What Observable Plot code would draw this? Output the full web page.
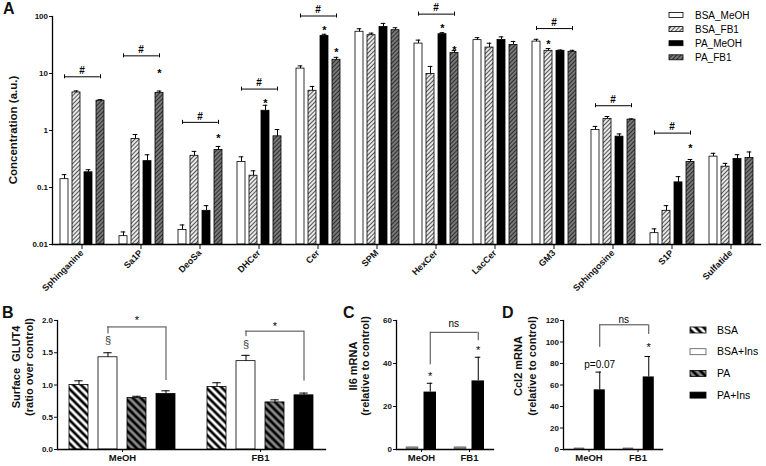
<!DOCTYPE html>
<html><head><meta charset="utf-8">
<script src="https://cdn.jsdelivr.net/npm/d3@7"></script>
<script src="https://cdn.jsdelivr.net/npm/@observablehq/plot@0.6"></script>
<style>
body{margin:0;background:#fff;}
#fig{position:relative;width:766px;height:466px;overflow:hidden;font-family:"Liberation Sans",Arial,sans-serif;background:#fff;}
#fig > *{position:absolute;}
.vl{font-weight:bold;white-space:pre;text-align:center;transform:translate(-50%,-50%) rotate(-90deg);color:#111;}
.pl{font-weight:bold;font-size:16px;line-height:16px;color:#111;}
</style></head><body><div id="fig"></div>
<script>
// ---------- Panel A data ----------
const categories = ["Sphinganine","Sa1P","DeoSa","DHCer","Cer","SPM","HexCer","LacCer","GM3","Sphingosine","S1P","Sulfatide"];
const seriesA = ["BSA_MeOH","BSA_FB1","PA_MeOH","PA_FB1"];
const bsaMeOH    = [0.14, 0.014, 0.018, 0.28, 12.2, 54, 33.5, 38.5, 36.3, 1.02, 0.0158, 0.348];
const bsaMeOHErr = [0.028, 0.0026, 0.004, 0.065, 1.4, 7, 5, 4, 3.5, 0.16, 0.003, 0.05];
const bsaFB1     = [4.65, 0.71, 0.36, 0.161, 4.98, 47, 9.8, 28.5, 25, 1.59, 0.039, 0.232];
const bsaFB1Err  = [0.3, 0.14, 0.07, 0.035, 0.95, 4, 3.5, 5.5, 2.4, 0.17, 0.009, 0.033];
const paMeOH     = [0.185, 0.29, 0.039, 2.22, 45.7, 65.7, 49, 38.9, 25, 0.78, 0.123, 0.316];
const paMeOHErr  = [0.02, 0.085, 0.009, 0.55, 3, 10, 3, 5, 0.8, 0.09, 0.032, 0.06];
const paFB1      = [3.33, 4.57, 0.455, 0.79, 17.4, 57.5, 22.8, 31.8, 24, 1.55, 0.28, 0.33];
const paFB1Err   = [0.15, 0.35, 0.07, 0.25, 1.8, 6, 2.4, 4.7, 1.5, 0.05, 0.03, 0.09];
const yTicksA = [0.01, 0.1, 1, 10, 100];
const hashCatsA = ["Sphinganine","Sa1P","DeoSa","DHCer","Cer","HexCer","GM3","Sphingosine","S1P"];
const hashYA    = [8.75, 20.4, 1.39, 5.33, 102, 110, 61.4, 2.72, 0.9];
const starCatsA   = ["Sa1P","DeoSa","DHCer","Cer","Cer","HexCer","HexCer","GM3","S1P"];
const starSeriesA = ["PA_FB1","PA_FB1","PA_MeOH","PA_MeOH","PA_FB1","PA_MeOH","PA_FB1","BSA_FB1","PA_FB1"];
const starYA      = [11.1, 0.81, 3.33, 63.9, 26, 70.4, 28.5, 35.9, 0.54];

// ---------- Panel B data ----------
const groups = ["MeOH","FB1"];
const seriesB = ["BSA","BSA+Ins","PA","PA+Ins"];
const glut4MeOH    = [1.00, 1.43, 0.80, 0.86];
const glut4MeOHErr = [0.065, 0.07, 0.025, 0.05];
const glut4FB1     = [0.97, 1.37, 0.73, 0.84];
const glut4FB1Err  = [0.065, 0.09, 0.04, 0.035];
const yTicksB = [0, 0.5, 1, 1.5, 2];
const bracketYB      = [1.90, 1.835];
const bracketLeftB   = [1.79, 1.75];
const bracketRightB  = [1.07, 1.06];
const sectionYB      = [1.69, 1.63];
const starYB         = [2.05, 1.96];

// ---------- Panel C data ----------
const il6Ctrl = [1, 1];
const il6     = [26.7, 31.9];
const il6Err  = [4.1, 11];
const yTicksC = [0, 20, 40, 60];
const il6StarY = [35.5, 47.5];
const il6BracketY = 54.5;
const il6BracketEnds = [39.4, 50.6];
const il6NsY = 58.4;

// ---------- Panel D data ----------
const ccl2Ctrl = [1, 1];
const ccl2     = [55.5, 67.5];
const ccl2Err  = [16.5, 19];
const yTicksD = [0, 20, 40, 60, 80, 100, 120];
const ccl2PText = "p=0.07";
const ccl2PY = 78.8;
const ccl2StarY = [null, 97.5];
const ccl2BracketY = 116;
const ccl2BracketEnds = [95, 107];
const ccl2NsY = 121;

// ---------- styles ----------
const FONT = "Liberation Sans, Arial, sans-serif";
const fillsA = ["#ffffff","url(#hA1)","#000000","url(#hA2)"];
const fillsB = ["url(#hB1)","#ffffff","url(#hB2)","#000000"];
const INK = "black";

const fig = d3.select("#fig");

// hatch pattern definitions
const defsSvg = fig.append("svg").attr("width",0).attr("height",0).style("left","0").style("top","0");
const defs = defsSvg.append("defs");
function hatch(id, bg, fg, size, sw, angle) {
  const p = defs.append("pattern").attr("id", id).attr("patternUnits","userSpaceOnUse")
    .attr("width", size).attr("height", size).attr("patternTransform", `rotate(${angle})`);
  p.append("rect").attr("width", size).attr("height", size).attr("fill", bg);
  p.append("line").attr("x1", size/2).attr("x2", size/2).attr("y1", 0).attr("y2", size)
    .attr("stroke", fg).attr("stroke-width", sw);
}
hatch("hA1", "#efefef", "#555", 3, 1.1, 45);
hatch("hA2", "#7c7c7c", "#2f2f2f", 3, 1.1, 45);
hatch("hB1", "#ffffff", "#000", 5.5, 2.7, -45);
hatch("hB2", "#8a8a8a", "#000", 5.5, 2.7, -45);

function place(node, left, top) {
  node.style.position = "absolute";
  node.style.left = left + "px";
  node.style.top = top + "px";
  document.getElementById("fig").appendChild(node);
}
const baseStyle = {fontFamily: FONT, fontSize: "8px", fontWeight: "bold", overflow: "visible", background: "none", color: "#111"};

// ---------- Panel A ----------
const valsA = [bsaMeOH, bsaFB1, paMeOH, paFB1];
const errsA = [bsaMeOHErr, bsaFB1Err, paMeOHErr, paFB1Err];
const dataA = categories.flatMap((cat, i) => seriesA.map((series, j) => ({cat, series, value: valsA[j][i], err: errsA[j][i]})));
const bracketsA = hashCatsA.map((cat, i) => ({cat, y: hashYA[i]}));
const bracketEndsA = bracketsA.flatMap(b => [seriesA[0], seriesA[3]].map(series => ({...b, series})));
const starsA = starCatsA.map((cat, i) => ({cat, series: starSeriesA[i], y: starYA[i]}));

const plotA = Plot.plot({
  width: 766, height: 300,
  marginLeft: 47, marginRight: 2, marginTop: 16, marginBottom: 56,
  style: baseStyle,
  fx: {domain: categories, padding: 0},
  x: {domain: seriesA, paddingInner: 0.346, paddingOuter: 0.471, axis: null},
  y: {type: "log", domain: [yTicksA[0], yTicksA[yTicksA.length - 1]]},
  color: {domain: seriesA, range: fillsA},
  marks: [
    Plot.barY(dataA, {fx: "cat", x: "series", y1: yTicksA[0], y2: "value", fill: "series", stroke: INK, strokeWidth: 0.8}),
    Plot.ruleX(dataA, {fx: "cat", x: "series", y1: "value", y2: d => d.value + d.err, stroke: INK, strokeWidth: 1}),
    Plot.tickY(dataA, {fx: "cat", x: "series", y: d => d.value + d.err, stroke: INK, strokeWidth: 1, insetLeft: 1.7, insetRight: 1.7}),
    Plot.ruleY(bracketsA, {fx: "cat", y: "y", x1: () => seriesA[0], x2: () => seriesA[3], insetLeft: 4.2, insetRight: 4.2, stroke: INK, strokeWidth: 1}),
    Plot.ruleX(bracketEndsA, {fx: "cat", x: "series", y1: d => d.y / 1.085, y2: d => d.y * 1.085, stroke: INK, strokeWidth: 1}),
    Plot.text(bracketsA, {fx: "cat", y: "y", text: () => "#", dy: -6, fontSize: 10, fontWeight: "bold", fill: INK}),
    Plot.text(starsA, {fx: "cat", x: "series", y: "y", text: () => "*", fontSize: 11, dy: 3, fill: INK}),
    Plot.axisY({ticks: yTicksA, tickFormat: d => String(d), tickSize: 3, tickPadding: 1.5, label: null}),
    Plot.axisFx({anchor: "bottom", tickRotate: -45, tickSize: 5, tickPadding: 2, label: null, fontSize: 9}),
    Plot.frame({anchor: "left", facet: "super", stroke: INK, strokeWidth: 1.3}),
    Plot.frame({anchor: "bottom", facet: "super", stroke: INK, strokeWidth: 1.3})
  ]
});
place(plotA, 0, 0);

// legend A
const legA = d3.select(plotA).append("g").attr("font-weight", "normal").attr("font-size", 10).attr("text-anchor", "start");
seriesA.forEach((s, i) => {
  const y = 15 + i * 14.1;
  legA.append("rect").attr("x", 669).attr("y", y - 2.5).attr("width", 14).attr("height", 5)
    .attr("fill", fillsA[i]).attr("stroke", INK).attr("stroke-width", 0.8);
  legA.append("text").attr("x", 695).attr("y", y).attr("dy", "0.35em").attr("text-anchor", "start").attr("fill", INK).text(s);
});

// ---------- Panel B ----------
const valsB = [glut4MeOH, glut4FB1];
const errsB = [glut4MeOHErr, glut4FB1Err];
const dataB = groups.flatMap((group, i) => seriesB.map((series, j) => ({group, series, value: valsB[i][j], err: errsB[i][j]})));
const bracketsB = groups.map((group, i) => ({group, y: bracketYB[i]}));
const legsB = groups.flatMap((group, i) => [
  {group, series: seriesB[1], y1: bracketLeftB[i], y2: bracketYB[i]},
  {group, series: seriesB[3], y1: bracketRightB[i], y2: bracketYB[i]}
]);
const sectB = groups.map((group, i) => ({group, series: seriesB[1], y: sectionYB[i]}));
const starsB = groups.map((group, i) => ({group, series: seriesB[2], y: starYB[i]}));

const plotB = Plot.plot({
  width: 335, height: 166,
  marginLeft: 57, marginRight: 10, marginTop: 20, marginBottom: 17,
  style: baseStyle,
  fx: {domain: groups, padding: 0.06},
  x: {domain: seriesB, paddingInner: 0.34, paddingOuter: 0.355, axis: null},
  y: {domain: [yTicksB[0], yTicksB[yTicksB.length - 1]]},
  color: {domain: seriesB, range: fillsB},
  marks: [
    Plot.barY(dataB, {fx: "group", x: "series", y: "value", fill: "series", stroke: INK, strokeWidth: 0.8}),
    Plot.ruleX(dataB, {fx: "group", x: "series", y1: "value", y2: d => d.value + d.err, stroke: INK, strokeWidth: 1}),
    Plot.tickY(dataB, {fx: "group", x: "series", y: d => d.value + d.err, stroke: INK, strokeWidth: 1, insetLeft: 5.3, insetRight: 5.3}),
    Plot.ruleY(bracketsB, {fx: "group", y: "y", x1: () => seriesB[1], x2: () => seriesB[3], insetLeft: 9.2, insetRight: 9.2, stroke: "#444", strokeWidth: 1}),
    Plot.ruleX(legsB, {fx: "group", x: "series", y1: "y1", y2: "y2", stroke: "#444", strokeWidth: 1}),
    Plot.text(sectB, {fx: "group", x: "series", y: "y", text: () => "§", fontSize: 11, fontWeight: "normal", fill: "#333"}),
    Plot.text(starsB, {fx: "group", x: "series", y: "y", text: () => "*", fontSize: 11, fontWeight: "normal", dy: 3, fill: INK}),
    Plot.axisY({ticks: yTicksB, tickFormat: d3.format(".1f"), tickSize: 3, tickPadding: 1.5, label: null}),
    Plot.axisFx({anchor: "bottom", tickSize: 3, tickPadding: 2, label: null, fontSize: 9.5}),
    Plot.frame({anchor: "left", facet: "super", stroke: INK, strokeWidth: 1.3}),
    Plot.frame({anchor: "bottom", facet: "super", stroke: INK, strokeWidth: 1.3})
  ]
});
place(plotB, 0, 300);

// ---------- Panels C & D helper ----------
function mrnaPanel(o) {
  const ctrl = groups.map((group, i) => ({group, value: o.ctrl[i]}));
  const main = groups.map((group, i) => ({group, value: o.vals[i], err: o.errs[i]}));
  const legs = groups.map((group, i) => ({group, y1: o.bracketEnds[i], y2: o.bracketY}));
  const stars = groups.map((group, i) => ({group, y: o.starY[i]})).filter(d => d.y != null);
  return Plot.plot({
    width: o.width, height: 166,
    marginLeft: o.marginLeft, marginRight: o.marginRight, marginTop: 20, marginBottom: 17,
    style: baseStyle,
    x: {domain: groups, padding: 0},
    y: {domain: [o.ticks[0], o.ticks[o.ticks.length - 1]]},
    marks: [
      Plot.barY(ctrl, {x: "group", y: "value", fill: "#8a8a8a", stroke: "#555", strokeWidth: 0.5, insetLeft: o.ctrlInset[0], insetRight: o.ctrlInset[1]}),
      Plot.barY(main, {x: "group", y: "value", fill: "#000", insetLeft: o.barInset[0], insetRight: o.barInset[1]}),
      Plot.ruleX(main, {x: "group", y1: "value", y2: d => d.value + d.err, dx: o.shift, stroke: INK, strokeWidth: 1}),
      Plot.tickY(main, {x: "group", y: d => d.value + d.err, stroke: INK, strokeWidth: 1, insetLeft: o.capInset[0], insetRight: o.capInset[1]}),
      Plot.ruleY([o.bracketY], {y: d => d, x1: () => groups[0], x2: () => groups[1], insetLeft: o.brInset[0], insetRight: o.brInset[1], stroke: "#444", strokeWidth: 1}),
      Plot.ruleX(legs, {x: "group", y1: "y1", y2: "y2", dx: o.shift, stroke: "#444", strokeWidth: 1}),
      Plot.text(stars, {x: "group", y: "y", text: () => "*", dx: o.shift, dy: 3, fontSize: 11, fontWeight: "normal", fill: INK}),
      Plot.text(o.notes, {x: "group", y: "y", text: "text", dx: o.shift, fontSize: 10, fontWeight: "normal", fill: INK}),
      Plot.text([o.nsY], {y: d => d, text: () => "ns", dx: o.shift, fontSize: 10, fontWeight: "normal", fill: INK}),
      Plot.axisY({ticks: o.ticks, tickSize: 3, tickPadding: 1.5, label: null}),
      Plot.axisX({tickSize: 3, tickPadding: 2, label: null, fontSize: 9.5}),
      Plot.frame({anchor: "left", stroke: INK, strokeWidth: 1.3}),
      Plot.frame({anchor: "bottom", stroke: INK, strokeWidth: 1.3})
    ]
  });
}

const plotC = mrnaPanel({
  width: 160, marginLeft: 56, marginRight: 7, ticks: yTicksC,
  ctrl: il6Ctrl, vals: il6, errs: il6Err,
  ctrlInset: [9, 27], barInset: [26.5, 9], shift: 8.75, capInset: [29.8, 12.7], brInset: [33, 15.5],
  bracketY: il6BracketY, bracketEnds: il6BracketEnds, nsY: il6NsY,
  starY: il6StarY, notes: []
});
place(plotC, 340, 300);

const plotD = mrnaPanel({
  width: 170, marginLeft: 58, marginRight: 13, ticks: yTicksD,
  ctrl: ccl2Ctrl, vals: ccl2, errs: ccl2Err,
  ctrlInset: [10, 29], barInset: [29.7, 8.2], shift: 10.75, capInset: [31.5, 12], brInset: [35.5, 14],
  bracketY: ccl2BracketY, bracketEnds: ccl2BracketEnds, nsY: ccl2NsY,
  starY: ccl2StarY, notes: [{group: groups[0], y: ccl2PY, text: ccl2PText}]
});
place(plotD, 505, 300);

// legend B-D
const legSvg = fig.append("svg").attr("width", 86).attr("height", 120).style("left", "680px").style("top", "300px")
  .style("font-family", FONT).style("font-size", "10.5px");
const swB = ["url(#hB1)", "#ffffff", "url(#hB2)", "#000000"];
seriesB.forEach((s, i) => {
  const y = 30 + i * 21.7;
  legSvg.append("rect").attr("x", 10).attr("y", y - 3).attr("width", 16).attr("height", 6)
    .attr("fill", swB[i]).attr("stroke", i === 1 ? "#555" : INK).attr("stroke-width", 0.8);
  legSvg.append("text").attr("x", 37).attr("y", y).attr("dy", "0.35em").attr("fill", INK).text(s);
});

// axis titles and panel letters
function vlabel(text, cx, cy, size, lh) {
  const d = document.createElement("div");
  d.className = "vl";
  d.style.fontSize = size + "px";
  d.style.lineHeight = lh + "px";
  d.textContent = text;
  place(d, cx, cy);
}
vlabel("Concentration (a.u.)", 13, 130, 11.5, 13);
vlabel("Surface  GLUT4\n(ratio over control)", 22, 367, 11, 12.5);
vlabel("Il6 mRNA\n(relative to control)", 358.5, 366, 11, 12);
vlabel("Ccl2 mRNA\n(relative to control)", 525, 366, 11, 13.5);

function letter(t, x, y) {
  const d = document.createElement("div");
  d.className = "pl";
  d.textContent = t;
  place(d, x, y);
}
letter("A", 3, 1);
letter("B", 2, 305);
letter("C", 343, 305);
letter("D", 502, 305);
</script></body></html>
